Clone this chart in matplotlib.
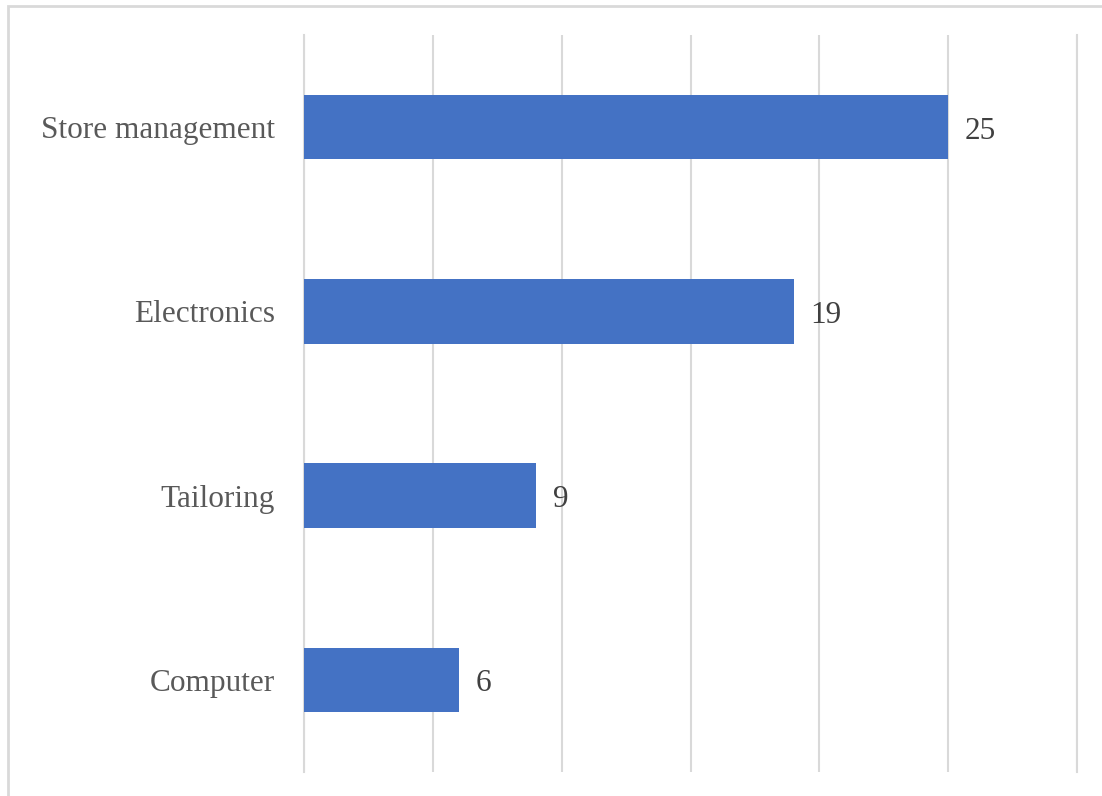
import matplotlib
matplotlib.use('Agg')
import matplotlib.pyplot as plt
from matplotlib.patches import Rectangle

plt.rcParams['font.family'] = ['Liberation Serif', 'DejaVu Serif']

# ==================== DATA ====================
categories = ['Computer', 'Tailoring', 'Electronics', 'Store management']
counts = [6, 9, 19, 25]

bar_color = '#4472C4'
grid_color = '#D9D9D9'
text_color = '#595959'

fig = plt.figure(figsize=(11.02, 7.96), dpi=100)
ax = fig.add_axes([304 / 1102, 1 - 772 / 796, (1077 - 304) / 1102, (772 - 35) / 796])

ypos = list(range(len(categories)))
bars = ax.barh(ypos, counts, height=0.35, color=bar_color, zorder=3)

# value labels, baseline set so the digits sit centred on each bar
for y, v in zip(ypos, counts):
    ax.text(v + 0.65, y - 0.063, str(v), va='baseline', ha='left', fontsize=22.5, color='#404040')

ax.set_xlim(0, 30)
ax.set_ylim(-0.5, len(categories) - 0.5)
ax.set_xticks(range(0, 31, 5))
ax.set_xticklabels([])
ax.set_yticks(ypos)
ax.set_yticklabels(categories, fontsize=22.5, color=text_color)
ax.tick_params(axis='both', length=0)
ax.tick_params(axis='y', pad=21)
ax.grid(axis='x', color=grid_color, linewidth=1.5, zorder=0)
for name, s in ax.spines.items():
    if name in ('left', 'right'):
        # edge gridlines get half-clipped, so draw them as spines
        s.set_color(grid_color)
        s.set_linewidth(1.5)
        s.set_zorder(0)
    else:
        s.set_visible(False)

# chart area outline (runs off the right and bottom edges)
fig.patches.append(Rectangle((8 / 1102, -0.5), 2, 1.5 - 6 / 796, transform=fig.transFigure,
                             fill=False, edgecolor=grid_color, linewidth=2, zorder=0))

plt.savefig('out.png', dpi=100, facecolor='white')
plt.close()
